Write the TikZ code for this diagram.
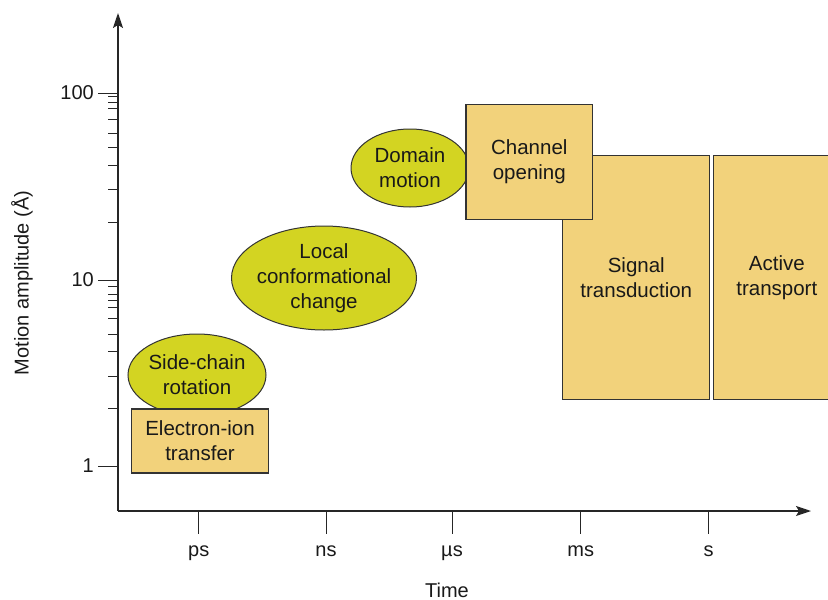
\documentclass[tikz,border=0pt]{standalone}
\usepackage{fontspec}
\setmainfont{Liberation Sans}
\usetikzlibrary{shapes.geometric,arrows.meta}
\definecolor{boxfill}{HTML}{F2D27B}
\definecolor{ovalfill}{HTML}{D3D422}
\definecolor{inkline}{HTML}{333333}

\begin{document}
\begin{tikzpicture}[x=1pt,y=-1pt,
  lbl/.style={font=\fontsize{20.5}{25}\selectfont, align=center, text=black!90},
  stagebox/.style={lbl, draw=inkline, line width=1.1pt, fill=boxfill, rectangle, inner sep=0pt},
  stageoval/.style={lbl, draw=inkline, line width=1pt, fill=ovalfill, ellipse, inner sep=0pt},
  axisline/.style={draw=black!85, line width=1.3pt, -{Stealth[length=15pt,width=10pt,inset=3pt]}},
  tickline/.style={draw=black!85, line width=1pt},
  ticklbl/.style={font=\fontsize{20}{24}\selectfont, text=black!90},
]
\useasboundingbox (0,0) rectangle (828,600);
\clip (0,0) rectangle (828,600);

% processes drawn as ovals (behind the boxes they touch)
\node[stageoval, minimum width=138pt, minimum height=82pt] (side) at (197,375) {Side-chain\\rotation};
\node[stageoval, inner xsep=-4pt, minimum width=185pt, minimum height=104pt] (local) at (324,278) {Local\\conformational\\change};
\node[stageoval, minimum width=118pt, minimum height=78pt] (domain) at (410,168) {Domain\\motion};

% processes drawn as boxes
\node[stagebox, minimum width=137pt, minimum height=64pt] (eit) at (200,441) {Electron-ion\\transfer};
\node[stagebox, minimum width=147pt, minimum height=244pt] (sig) at (636.3,277.2) {Signal\\transduction};
\node[stagebox, minimum width=127pt, minimum height=244pt] (act) at (776.8,277.2) {Active\\transport};
\node[stagebox, minimum width=126.7pt, minimum height=115.3pt] (chan) at (529.3,161.7) {Channel\\opening};

% axes
\coordinate (origin) at (118,511);
\coordinate (ytop) at (118,13);
\coordinate (xend) at (811,511);
\draw[axisline] (origin) -- (ytop);
\draw[axisline] (origin) -- (xend);

% amplitude axis: minor and decade ticks
\foreach \y in {96.7,102,108.7,119.3,133.3,147.3,165.3,189.3,222,
                286.7,294.7,300,307,318.7,334,351.3,376,408.7}
  \draw[tickline] (108,\y) -- (118,\y);
\foreach \y/\v in {93/100,280/10,466/1}{
  \draw[tickline] (98,\y) -- (118,\y);
  \node[ticklbl, anchor=east, inner sep=0pt] (yl\v) at (94,\y) {\v};
}

% time axis ticks
\foreach \x/\t/\n in {198.7/ps/ps,326/ns/ns,452/µs/us,580.7/ms/ms,708.7/s/s}{
  \draw[tickline] (\x,511) -- (\x,534);
  \node[ticklbl, anchor=base, inner sep=0pt] (xl\n) at (\x,556) {\t};
}

% axis titles
\node[ticklbl, anchor=base, inner sep=0pt] (xtitle) at (447,597) {Time};
\node[ticklbl, rotate=90, inner sep=0pt] (ytitle) at (22,283) {Motion amplitude (Å)};
\end{tikzpicture}
\end{document}
